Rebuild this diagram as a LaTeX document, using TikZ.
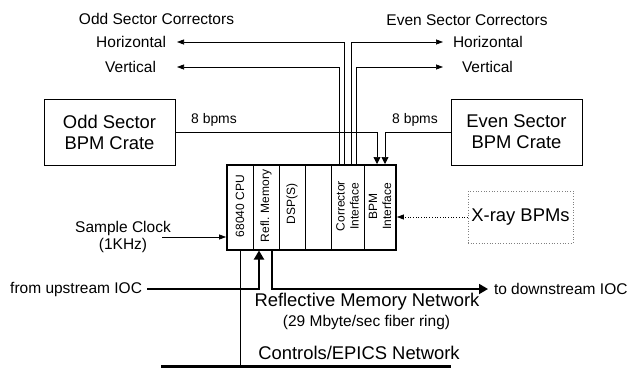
\documentclass[tikz,border=0pt]{standalone}
\usepackage{fontspec}
\setmainfont{Liberation Sans}
\usetikzlibrary{arrows.meta}

\begin{document}
\begin{tikzpicture}[x=1pt,y=-1pt,line width=0.7pt,
  every node/.style={inner sep=0pt},
  lbl/.style={font=\fontsize{15.5}{17}\selectfont,align=center},
  small/.style={font=\fontsize{13.9}{16}\selectfont},
  big/.style={font=\fontsize{18.4}{21}\selectfont,align=center},
  bpmbox/.style={draw,big,minimum width=131pt,minimum height=66pt},
  slot/.style={rotate=90,align=center,font=\fontsize{12}{14}\selectfont},
  arr/.style={-{Triangle[length=7pt,width=5pt]}},
  bpmarr/.style={-{Triangle[length=7pt,width=7pt]}},
  fat/.style={line width=1.8pt,-{Triangle[length=9pt,width=10pt]}}]
  \useasboundingbox (0,0) rectangle (627,368);

  \node[lbl] (oddcor) at (156.5,19) {Odd Sector Correctors};
  \node[lbl] (evencor) at (467,20) {Even Sector Correctors};
  \node[lbl,anchor=east,outer xsep=11pt] (oddh) at (177,42) {Horizontal};
  \node[lbl,anchor=east,outer xsep=21pt] (oddv) at (177,67) {Vertical};
  \node[lbl,anchor=west,outer xsep=10pt] (evenh) at (443,42) {Horizontal};
  \node[lbl,anchor=west,outer xsep=19pt] (evenv) at (443,67) {Vertical};

  \node[bpmbox] (oddcrate) at (109.5,132) {Odd Sector\\BPM Crate};
  \node[bpmbox] (evencrate) at (516.5,132) {Even Sector\\BPM Crate};

  \node[draw,line width=1.8pt,minimum width=169pt,minimum height=85pt] (vme) at (311.5,207.5) {};
  \foreach \x in {253,279,305,331,364}
    \draw (\x,165) -- (\x,250);
  \node[slot] (cpu) at (240,206) {68040 CPU};
  \node[slot] (refl) at (266,206) {Refl. Memory};
  \node[slot] (dsp) at (292,204) {DSP(S)};
  \node[slot] (corr) at (347.5,206) {Corrector\\Interface};
  \node[slot] (bpmif) at (380,206) {BPM\\Interface};

  \foreach \n/\x in {c1/339,c2/344,c3/351,c4/356}
    \coordinate (\n) at (\x,165);
  \draw[arr] (c2) |- (oddh.east);
  \draw[arr] (c1) |- (oddv.east);
  \draw[arr] (c3) |- (evenh.west);
  \draw[arr] (c4) |- (evenv.west);

  \coordinate (b1) at (377,164);
  \coordinate (b2) at (385,164);
  \draw[bpmarr] (oddcrate.east) -| (b1);
  \draw[bpmarr] (evencrate.west) -| (b2);
  \node[small] (oddn) at (214,120) {8 bpms};
  \node[small] (evenn) at (415,120) {8 bpms};

  \node[draw=gray,dotted,big,minimum width=105pt,minimum height=52pt] (xray) at (520.5,217) {X-ray BPMs};
  \draw[dotted,arr] (xray.west) -- (vme.east |- xray.west);

  \node[lbl] (clk) at (123,236.5) {Sample Clock\\(1KHz)};
  \coordinate (clkin) at (162,237);
  \draw[arr] (clkin) -- (vme.west |- clkin);

  \node[lbl,anchor=east,outer xsep=5pt] (up) at (147,289) {from upstream IOC};
  \node[lbl,anchor=west,outer xsep=6pt] (down) at (488,289) {to downstream IOC};
  \coordinate (rin) at (259,250.5);
  \coordinate (rout) at (272,250);
  \draw[fat] (up.east) -| (rin);
  \draw[fat] (rout) |- (down.west);

  \coordinate (cin) at (240,250);
  \coordinate (netl) at (161,366);
  \coordinate (netr) at (451,366);
  \draw[line width=3pt] (netl) -- (netr);
  \draw (cin) -- (cin |- netl);

  \node[big] (rmn) at (367,302) {Reflective Memory Network};
  \node[lbl] (fiber) at (366.5,322) {(29 Mbyte/sec fiber ring)};
  \node[big] (epics) at (359,353) {Controls/EPICS Network};
\end{tikzpicture}
\end{document}
